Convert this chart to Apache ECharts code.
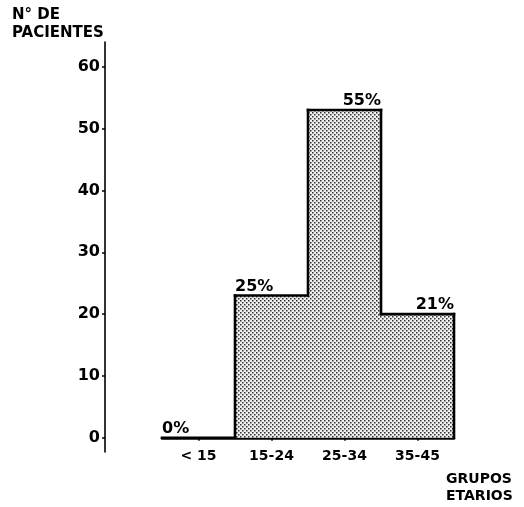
<!DOCTYPE html>
<html>
<head>
<meta charset="utf-8">
<script src="https://cdn.jsdelivr.net/npm/echarts@6/dist/echarts.min.js"></script>
<style>
html,body{margin:0;padding:0;background:#fff;}
#chart{width:524px;height:507px;}
</style>
</head>
<body>
<div id="chart"></div>
<script>
// ---- data ----
const categories = ['< 15', '15-24', '25-34', '35-45'];
const patients = [0, 23, 53, 20];
const percentLabels = ['0%', '25%', '55%', '21%'];
const yTicks = [0, 10, 20, 30, 40, 50, 60];
const yTitle = 'N° DE\nPACIENTES';
const xTitle = 'GRUPOS\nETARIOS';

// ---- style helpers ----
const labelSide = ['left', 'left', 'right', 'right'];
const FONT = 'DejaVu Sans';

function makePattern() {
  const c = document.createElement('canvas');
  c.width = 4; c.height = 4;
  const g = c.getContext('2d');
  g.fillStyle = '#f0f0f0';
  g.fillRect(0, 0, 4, 4);
  g.fillStyle = '#2e2e2e';
  g.fillRect(0, 0, 1.5, 1.5);
  g.fillRect(2, 2, 1.5, 1.5);
  return c;
}
const pattern = { image: makePattern(), repeat: 'repeat' };

const chart = echarts.init(document.getElementById('chart'), null, { renderer: 'canvas' });

function renderItem(params, api) {
  const i = params.dataIndex;
  const v = api.value(1);
  const prev = i > 0 ? patients[i - 1] : 0;
  const center = api.coord([i, v]);
  const w = api.size([1, 0])[0];
  const x0 = center[0] - w / 2, x1 = center[0] + w / 2;
  const yTop = center[1];
  const yZero = api.coord([i, 0])[1];
  const yPrev = api.coord([i, prev])[1];
  const lw = 2.6;
  const children = [];
  if (v > 0) {
    children.push({ type: 'rect', shape: { x: x0, y: yTop, width: w, height: yZero - yTop },
      style: { fill: pattern } });
  }
  children.push({ type: 'line', shape: { x1: x0, y1: yTop, x2: x1, y2: yTop },
    style: { stroke: '#000', lineWidth: lw, lineCap: 'square' } });
  if (v !== prev) {
    children.push({ type: 'line', shape: { x1: x0, y1: yTop, x2: x0, y2: yPrev },
      style: { stroke: '#000', lineWidth: lw, lineCap: 'square' } });
  }
  if (i === patients.length - 1) {
    children.push({ type: 'line', shape: { x1: x1, y1: yTop, x2: x1, y2: yZero },
      style: { stroke: '#000', lineWidth: lw, lineCap: 'square' } });
  }
  const left = labelSide[i] === 'left';
  children.push({ type: 'text',
    style: { text: percentLabels[i], x: left ? x0 : x1, y: yTop - 1,
      align: left ? 'left' : 'right', verticalAlign: 'bottom',
      font: 'bold 16px ' + FONT, fill: '#000' } });
  return { type: 'group', children };
}

chart.setOption({
  animation: false,
  backgroundColor: '#fff',
  title: [
    { text: yTitle, left: 7, top: 1,
      textStyle: { fontFamily: FONT, fontWeight: 'bold', fontSize: 15, lineHeight: 18, color: '#000' } },
    { text: xTitle, left: 441, top: 466,
      textStyle: { fontFamily: FONT, fontWeight: 'bold', fontSize: 14, lineHeight: 17, color: '#000' } }
  ],
  grid: { left: 162, right: 70, top: 42, bottom: 55 },
  xAxis: {
    type: 'category',
    data: categories,
    boundaryGap: true,
    axisLine: { show: true, onZero: true, lineStyle: { color: '#000', width: 2.6 } },
    axisTick: { show: true, alignWithLabel: true, length: 3, lineStyle: { color: '#000', width: 1.5 } },
    axisLabel: { margin: -3, color: '#000', fontFamily: FONT, fontWeight: 'bold', fontSize: 14 },
    splitLine: { show: false }
  },
  yAxis: {
    type: 'value',
    min: -2.3,
    max: 64,
    offset: 57,
    axisLine: { show: true, lineStyle: { color: '#000', width: 1.6 } },
    axisTick: { show: true, length: 3, customValues: yTicks, lineStyle: { color: '#000', width: 1.5 } },
    axisLabel: { margin: 5, customValues: yTicks, color: '#000', fontFamily: FONT, fontWeight: 'bold', fontSize: 16 },
    splitLine: { show: false }
  },
  series: [{
    type: 'custom',
    renderItem: renderItem,
    data: patients.map((v, i) => [i, v]),
    encode: { x: 0, y: 1 },
    clip: false
  }]
});
</script>
</body>
</html>
